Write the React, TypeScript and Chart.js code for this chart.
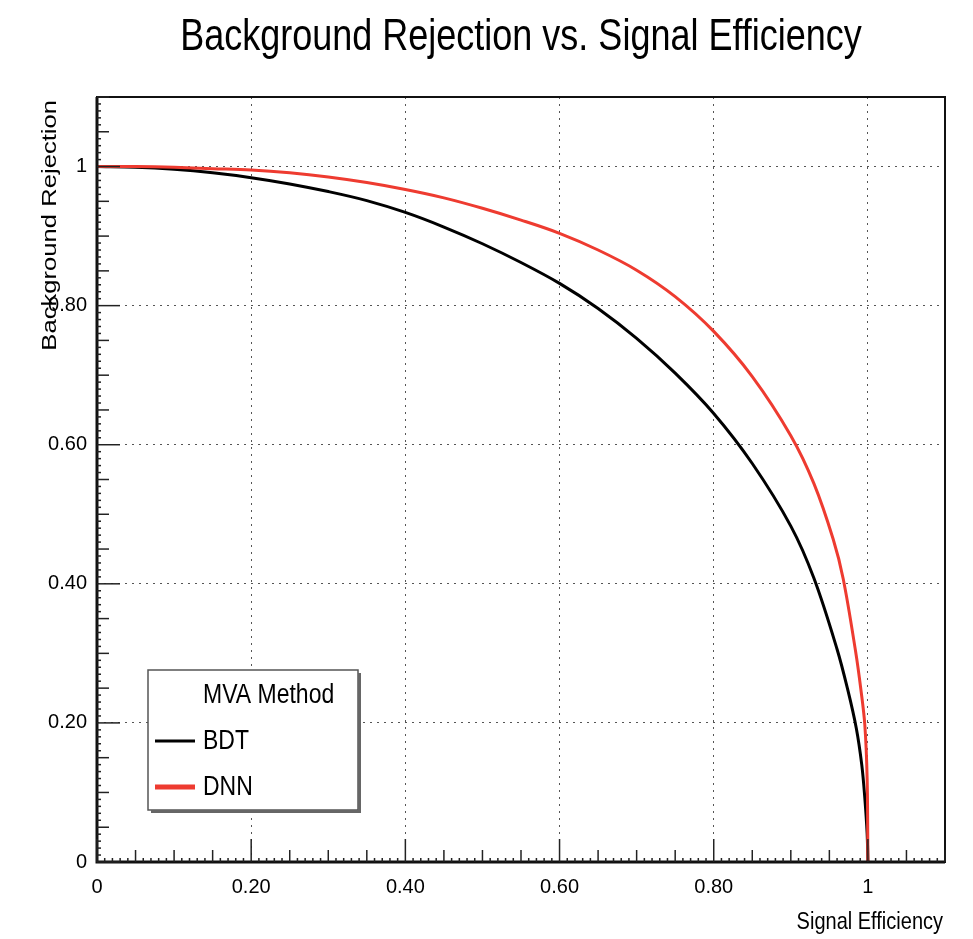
import React, { useEffect, useRef } from 'react';
import { Chart, registerables } from 'chart.js';

Chart.register(...registerables);

const chartTitle = 'Background Rejection vs. Signal Efficiency';
const xAxisTitle = 'Signal Efficiency';
const yAxisTitle = 'Background Rejection';
const legendHeader = 'MVA Method';
const seriesNames = ['BDT', 'DNN'];
const seriesColors = ['#000000', '#ee3b30'];

const tickValues = [0, 0.2, 0.4, 0.6, 0.8, 1];
const tickLabels = ['0', '0.20', '0.40', '0.60', '0.80', '1'];

const bdtEff = [0, 0.05, 0.1, 0.15, 0.2, 0.25, 0.3, 0.35, 0.4, 0.45, 0.5, 0.55, 0.6, 0.65, 0.7, 0.75, 0.8, 0.85, 0.9, 0.93, 0.96, 0.974, 0.985, 0.992, 0.996, 0.999, 1.0];
const bdtRej = [1.0, 0.999, 0.996, 0.991, 0.984, 0.975, 0.964, 0.951, 0.934, 0.913, 0.889, 0.862, 0.832, 0.796, 0.753, 0.703, 0.645, 0.573, 0.483, 0.408, 0.306, 0.247, 0.192, 0.140, 0.092, 0.041, 0.0];

const dnnEff = [0, 0.05, 0.1, 0.15, 0.2, 0.25, 0.3, 0.35, 0.4, 0.45, 0.5, 0.55, 0.6, 0.65, 0.7, 0.75, 0.8, 0.85, 0.9, 0.93, 0.955, 0.968, 0.984, 0.991, 0.996, 0.999, 1.0];
const dnnRej = [1.0, 1.0, 0.999, 0.997, 0.995, 0.991, 0.985, 0.977, 0.967, 0.955, 0.940, 0.923, 0.904, 0.880, 0.851, 0.813, 0.763, 0.698, 0.613, 0.544, 0.464, 0.407, 0.303, 0.247, 0.197, 0.120, 0.0];

const REG = "'Liberation Sans', Arial, sans-serif";
const STRETCH = 1.22;

function toPoints(xs: number[], ys: number[]) {
  return xs.map((x, i) => ({ x, y: ys[i] }));
}

const rootStyle = {
  id: 'rootStyle',
  afterDatasetsDraw(chart: any) {
    const { ctx, chartArea: a, scales } = chart;
    const xs = scales.x;
    const ys = scales.y;
    ctx.save();
    // frame
    ctx.strokeStyle = '#111';
    ctx.lineWidth = 2;
    ctx.strokeRect(a.left, a.top, a.right - a.left, a.bottom - a.top);
    ctx.lineWidth = 3;
    ctx.beginPath();
    ctx.moveTo(a.left, a.top);
    ctx.lineTo(a.left, a.bottom);
    ctx.lineTo(a.right, a.bottom);
    ctx.stroke();
    // inside ticks
    ctx.lineWidth = 1.5;
    ctx.strokeStyle = '#222';
    for (let i = 0; i <= 110; i++) {
      const v = i / 100;
      const len = i % 20 === 0 ? 23 : i % 5 === 0 ? 12 : 4;
      const px = xs.getPixelForValue(v);
      ctx.beginPath();
      ctx.moveTo(px, a.bottom);
      ctx.lineTo(px, a.bottom - len);
      ctx.stroke();
      const py = ys.getPixelForValue(v);
      ctx.beginPath();
      ctx.moveTo(a.left, py);
      ctx.lineTo(a.left + len, py);
      ctx.stroke();
    }
    ctx.fillStyle = '#000';
    // title
    ctx.save();
    ctx.font = `36px ${REG}`;
    ctx.textAlign = 'center';
    ctx.textBaseline = 'alphabetic';
    ctx.scale(1, STRETCH);
    ctx.fillText(chartTitle, (a.left + a.right) / 2, 50 / STRETCH);
    ctx.restore();
    // x axis title
    ctx.save();
    ctx.font = `20px ${REG}`;
    ctx.textAlign = 'right';
    ctx.textBaseline = 'alphabetic';
    ctx.scale(1, STRETCH);
    ctx.fillText(xAxisTitle, a.right - 2, 929 / STRETCH);
    ctx.restore();
    // y axis title
    ctx.save();
    ctx.translate(56, a.top + 3);
    ctx.rotate(-Math.PI / 2);
    ctx.scale(STRETCH, 1);
    ctx.font = `21px ${REG}`;
    ctx.textAlign = 'right';
    ctx.textBaseline = 'alphabetic';
    ctx.fillText(yAxisTitle, 0, 0);
    ctx.restore();
    // legend box
    const lx = 148, ly = 670, lw = 210, lh = 140;
    ctx.fillStyle = '#fff';
    ctx.fillRect(lx, ly, lw, lh);
    ctx.strokeStyle = '#555';
    ctx.lineWidth = 1.5;
    ctx.strokeRect(lx, ly, lw, lh);
    ctx.fillStyle = '#666';
    ctx.fillRect(lx + 3, ly + lh, lw, 3);
    ctx.fillRect(lx + lw, ly + 3, 3, lh);
    const rows = [
      { text: legendHeader, y: 695, color: null as string | null, w: 0 },
      { text: seriesNames[0], y: 741, color: seriesColors[0], w: 3 },
      { text: seriesNames[1], y: 787, color: seriesColors[1], w: 5 },
    ];
    rows.forEach((r) => {
      if (r.color) {
        ctx.strokeStyle = r.color;
        ctx.lineWidth = r.w;
        ctx.beginPath();
        ctx.moveTo(155, r.y);
        ctx.lineTo(195, r.y);
        ctx.stroke();
      }
      ctx.save();
      ctx.fillStyle = '#000';
      ctx.font = `23px ${REG}`;
      ctx.textAlign = 'left';
      ctx.textBaseline = 'middle';
      ctx.scale(1, STRETCH);
      ctx.fillText(r.text, 203, r.y / STRETCH);
      ctx.restore();
    });
    ctx.restore();
  },
};

function tickCallback(value: number) {
  const i = tickValues.findIndex((t) => Math.abs(t - value) < 1e-9);
  return i >= 0 ? tickLabels[i] : '';
}

export default function App() {
  const ref = useRef<HTMLCanvasElement | null>(null);
  useEffect(() => {
    if (!ref.current) return;
    const gridOpts = {
      color: '#555',
      lineWidth: 1,
      drawTicks: false,
    };
    const borderOpts = { display: false, dash: [2, 5] };
    const chart = new Chart(ref.current, {
      type: 'scatter',
      data: {
        datasets: [
          {
            label: seriesNames[0],
            data: toPoints(bdtEff, bdtRej),
            borderColor: seriesColors[0],
            backgroundColor: seriesColors[0],
            borderWidth: 3,
            showLine: true,
            pointRadius: 0,
            tension: 0.35,
            order: 1,
          },
          {
            label: seriesNames[1],
            data: toPoints(dnnEff, dnnRej),
            borderColor: seriesColors[1],
            backgroundColor: seriesColors[1],
            borderWidth: 3,
            showLine: true,
            pointRadius: 0,
            tension: 0.35,
            order: 0,
          },
        ],
      },
      options: {
        responsive: false,
        animation: false,
        layout: { padding: { top: 97, right: 28, left: 0, bottom: 0 } },
        plugins: {
          legend: { display: false },
          title: { display: false },
          tooltip: { enabled: false },
        },
        scales: {
          x: {
            type: 'linear',
            min: 0,
            max: 1.1,
            afterBuildTicks: (s: any) => {
              s.ticks = tickValues.map((v) => ({ value: v }));
            },
            afterFit: (s: any) => {
              s.height = 77;
            },
            grid: gridOpts,
            border: borderOpts,
            ticks: {
              callback: (v: any) => tickCallback(Number(v)),
              font: { family: REG, size: 20 },
              color: '#000',
              padding: 13,
              maxRotation: 0,
              autoSkip: false,
            },
          },
          y: {
            type: 'linear',
            min: 0,
            max: 1.1,
            afterBuildTicks: (s: any) => {
              s.ticks = tickValues.map((v) => ({ value: v }));
            },
            afterFit: (s: any) => {
              s.width = 97;
            },
            grid: gridOpts,
            border: borderOpts,
            ticks: {
              callback: (v: any) => tickCallback(Number(v)),
              font: { family: REG, size: 20 },
              color: '#000',
              padding: 10,
              autoSkip: false,
            },
          },
        },
      },
      plugins: [rootStyle],
    } as any);
    return () => chart.destroy();
  }, []);
  return (
    <div style={{ position: 'absolute', left: 0, top: 0, width: 973, height: 939, background: '#fff' }}>
      <canvas ref={ref} width={973} height={939} style={{ display: 'block' }} />
    </div>
  );
}
